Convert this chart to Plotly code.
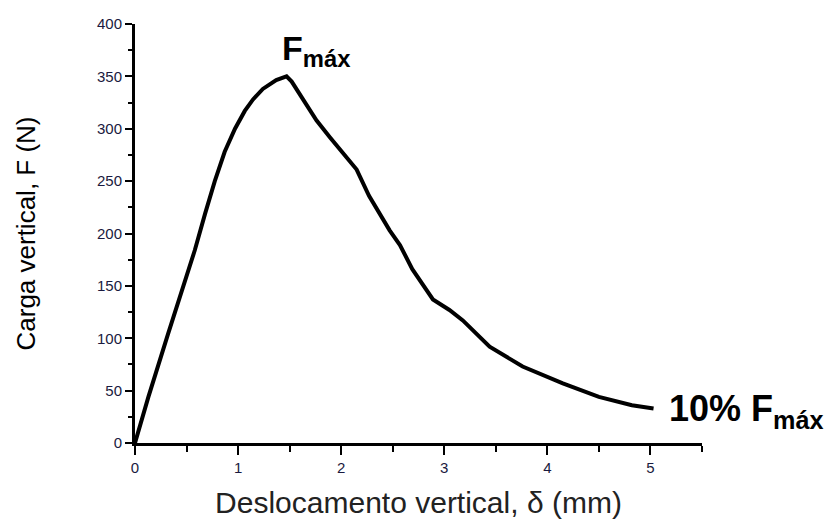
import plotly.graph_objects as go

# Curve data: displacement (mm) vs load (N)
deslocamento = [0.0, 0.13, 0.32, 0.45, 0.58, 0.68, 0.774, 0.87, 0.97, 1.065, 1.145, 1.24, 1.37,
                1.47, 1.52, 1.63, 1.76, 1.89, 2.05, 2.15, 2.27, 2.47, 2.57, 2.69, 2.89, 3.05,
                3.18, 3.44, 3.76, 4.15, 4.50, 4.82, 5.03]
carga = [0, 44, 104, 144, 184, 219, 250, 278, 300, 317, 328, 338, 346.5,
         350, 345, 328, 308, 292, 273, 261, 236, 203, 189, 166, 137, 127,
         117, 92, 73, 57, 44, 36, 33]

x_ticks = [0, 1, 2, 3, 4, 5]
y_ticks = [0, 50, 100, 150, 200, 250, 300, 350, 400]

FONT = "Liberation Sans, Arial, sans-serif"

fig = go.Figure()
fig.add_trace(go.Scatter(x=deslocamento, y=carga, mode="lines",
                         line=dict(color="black", width=4),
                         showlegend=False, hoverinfo="skip"))

fig.add_annotation(x=1.41, y=375, xref="x", yref="y", text="<b>F<sub>máx</sub></b>",
                   showarrow=False, xanchor="left", yanchor="middle",
                   font=dict(family=FONT, size=34, color="black"))
fig.add_annotation(x=5.16, y=31, xref="x", yref="y", text="<b>10% F<sub>máx</sub></b>",
                   showarrow=False, xanchor="left", yanchor="middle",
                   font=dict(family=FONT, size=36, color="black"))

fig.update_layout(
    width=833, height=531,
    margin=dict(l=135, r=131, t=24, b=88),
    paper_bgcolor="white", plot_bgcolor="white",
    font=dict(family=FONT, color="black"),
    xaxis=dict(range=[0, 5.5], tickvals=x_ticks, ticktext=[str(v) for v in x_ticks],
               showline=True, linecolor="black", linewidth=3, showgrid=False, zeroline=False,
               ticks="outside", ticklen=9, tickwidth=2, tickcolor="black",
               minor=dict(tickvals=[0.5, 1.5, 2.5, 3.5, 4.5, 5.5], ticks="outside", ticklen=6,
                          tickwidth=2, tickcolor="black", showgrid=False),
               tickfont=dict(size=15, color="#1a1a40"),
               title=dict(text="Deslocamento vertical, δ (mm)", font=dict(size=30, color="#222"),
                          standoff=17)),
    yaxis=dict(range=[0, 400], tickvals=y_ticks, ticktext=[str(v) for v in y_ticks],
               showline=True, linecolor="black", linewidth=3, showgrid=False, zeroline=False,
               ticks="outside", ticklen=7, tickwidth=2, tickcolor="black",
               minor=dict(dtick=25, ticks="outside", ticklen=4, tickwidth=2,
                          tickcolor="black", showgrid=False),
               tickfont=dict(size=15, color="#1a1a40"),
               title=dict(text="Carga vertical, F (N)", font=dict(size=26, color="black"),
                          standoff=54)),
)

fig.write_html("out.html")
